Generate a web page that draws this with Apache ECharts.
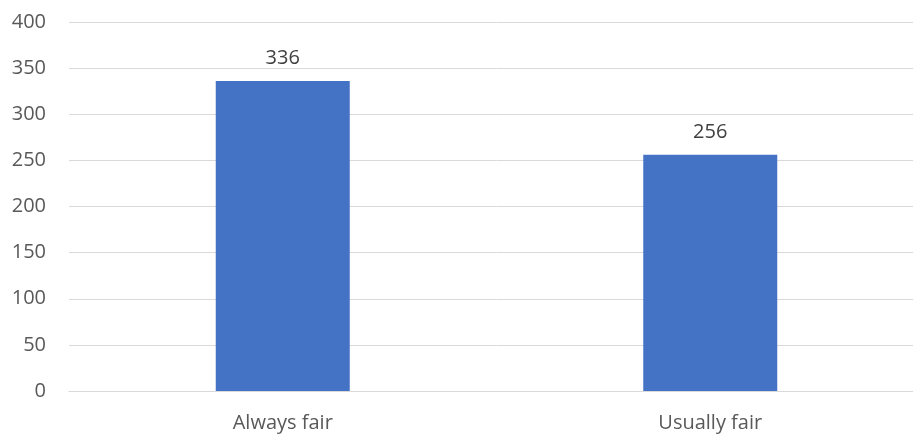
<!DOCTYPE html>
<html>
<head>
<meta charset="utf-8">
<script src="https://cdn.jsdelivr.net/npm/echarts@6/dist/echarts.min.js"></script>
<style>html,body{margin:0;padding:0;background:#fff;overflow:hidden;width:913px;height:437px}#c{width:924px;height:437px}</style>
</head>
<body>
<div id="c"></div>
<script>
const categories = ["Always fair", "Usually fair"];
const values = [336, 256];
const yTicks = { min: 0, max: 400, interval: 50 };

const chart = echarts.init(document.getElementById('c'), null, { renderer: 'canvas' });
const font = '"Open Sans", "Liberation Sans", sans-serif';
chart.setOption({
  animation: false,
  grid: { left: 69, right: 0, top: 22, bottom: 46, containLabel: false },
  xAxis: {
    type: 'category',
    data: categories,
    axisLine: { show: true, lineStyle: { color: '#d9d9d9', width: 1 } },
    axisTick: { show: false },
    axisLabel: { color: '#595959', fontSize: 20, fontFamily: font, margin: 22 }
  },
  yAxis: {
    type: 'value',
    min: yTicks.min, max: yTicks.max, interval: yTicks.interval,
    axisLine: { show: false },
    axisTick: { show: false },
    splitLine: { lineStyle: { color: '#d9d9d9', width: 1 } },
    axisLabel: { color: '#595959', fontSize: 20, fontFamily: font, margin: 23 }
  },
  series: [{
    type: 'bar',
    data: values,
    barWidth: 134,
    itemStyle: { color: '#4472c4' },
    label: { show: true, position: 'top', distance: 13, color: '#404040', fontSize: 20, fontFamily: font }
  }]
});
</script>
</body>
</html>
